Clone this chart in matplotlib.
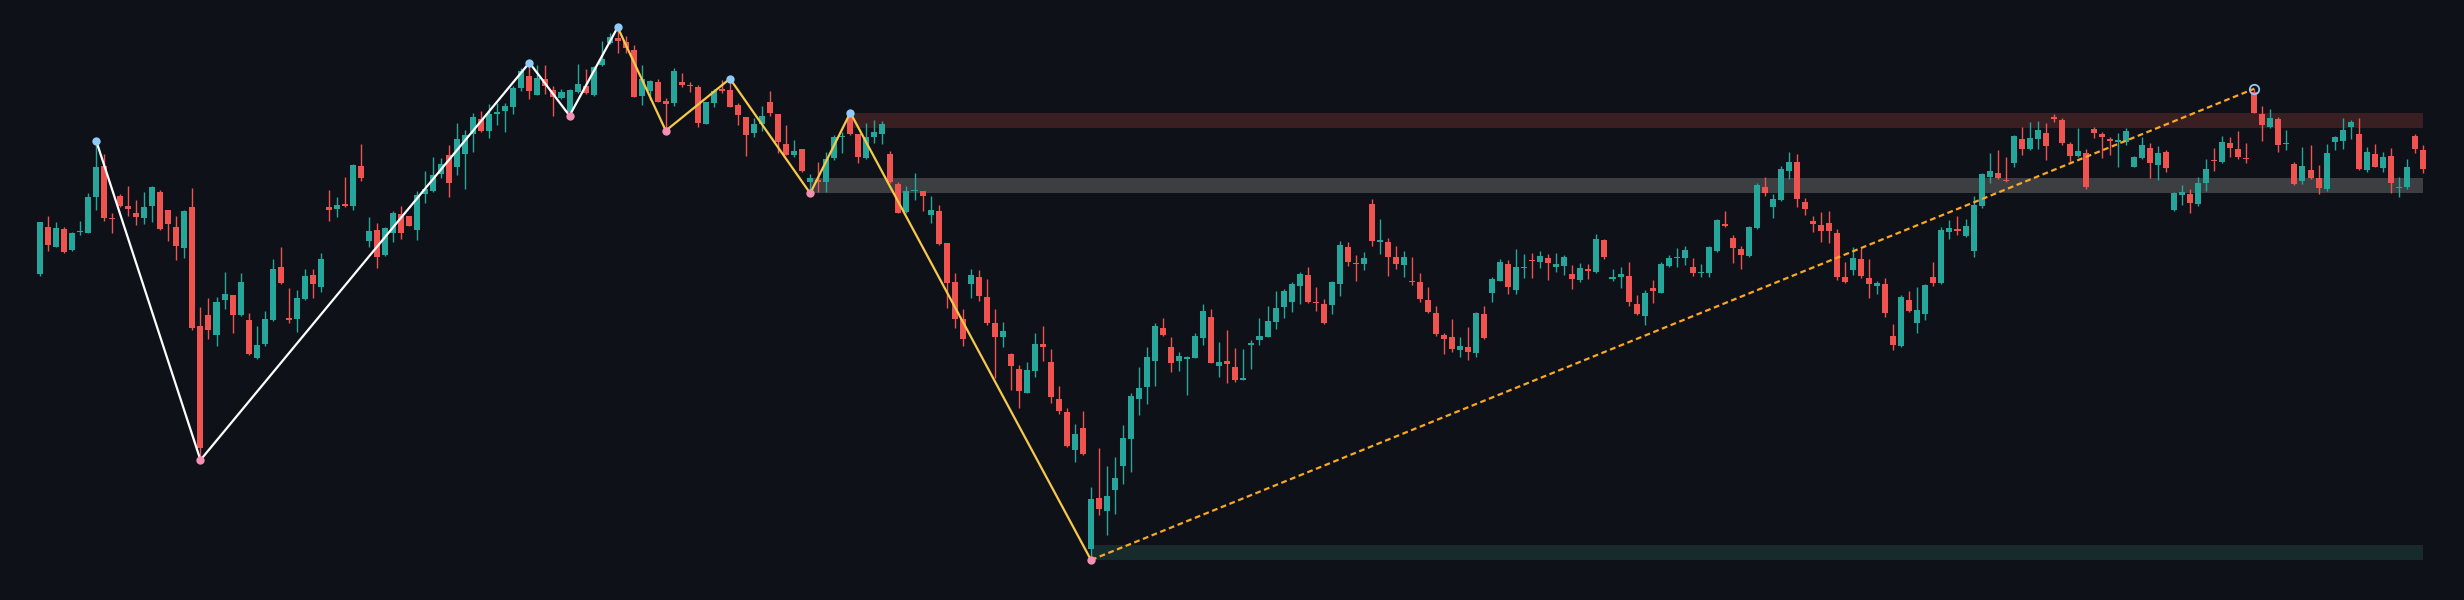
#!/usr/bin/env python3
"""Candlestick chart with zigzag pivots, projection line and S/R zones."""

import matplotlib

matplotlib.use("Agg")
import matplotlib.pyplot as plt
import numpy as np

BG = "#0e1118"
UP = "#26a69a"
DOWN = "#ef5350"

# OHLC, one value per bar (10 per row)
opens = [
    82.60, 87.33, 85.33, 87.07, 85.00, 86.80, 86.73, 90.27, 93.37, 88.20,
    90.40, 89.40, 88.73, 88.17, 89.37, 90.83, 88.97, 87.33, 85.20, 89.33,
    77.43, 78.50, 76.50, 79.97, 80.47, 78.50, 77.97, 74.23, 75.57, 78.00,
    83.27, 78.17, 78.10, 80.10, 82.47, 81.33, 89.33, 89.13, 89.57, 89.43,
    93.40, 85.90, 86.97, 84.50, 86.73, 88.57, 88.40, 87.00, 90.57, 90.93,
    92.60, 94.50, 93.33, 94.60, 96.57, 98.10, 96.93, 98.60, 98.93, 99.27,
    101.20, 102.37, 100.50, 102.10, 101.00, 100.17, 98.83, 100.83, 101.40, 100.53,
    103.50, 105.67, 106.17, 105.77, 105.00, 100.43, 100.93, 101.80, 99.90, 99.67,
    101.77, 101.53, 101.27, 97.63, 99.73, 101.07, 101.00, 99.50, 98.33, 96.67,
    97.60, 99.83, 98.60, 95.57, 94.50, 95.07, 91.83, 92.00, 91.83, 94.17,
    96.27, 98.50, 96.57, 94.17, 96.33, 96.60, 94.60, 91.60, 88.77, 90.87,
    90.90, 88.50, 88.93, 85.67, 81.80, 78.07, 81.60, 82.33, 80.33, 77.73,
    76.33, 74.60, 73.10, 70.67, 72.90, 75.57, 73.77, 70.10, 68.80, 65.00,
    67.17, 55.07, 60.17, 58.93, 61.00, 63.43, 66.10, 70.07, 71.33, 73.93,
    77.17, 75.27, 73.93, 74.07, 74.23, 76.23, 78.27, 73.43, 73.90, 73.27,
    72.00, 75.50, 76.00, 76.33, 77.83, 79.27, 79.77, 81.43, 82.50, 79.83,
    79.63, 79.50, 81.60, 85.33, 83.67, 83.57, 89.57, 85.83, 85.77, 84.27,
    83.50, 81.90, 81.83, 80.00, 78.73, 76.50, 76.27, 75.00, 75.27, 74.67,
    78.60, 80.67, 81.93, 83.57, 81.00, 83.20, 84.00, 83.77, 84.17, 83.33,
    83.43, 82.60, 82.00, 83.10, 82.77, 86.00, 82.07, 82.27, 82.40, 79.60,
    78.43, 81.17, 80.73, 83.43, 84.17, 84.17, 83.27, 82.67, 82.67, 84.90,
    87.60, 86.17, 85.07, 84.43, 87.17, 91.33, 89.27, 90.00, 92.90, 93.77,
    89.77, 87.90, 87.50, 87.73, 86.67, 82.33, 83.00, 84.10, 82.17, 81.43,
    81.60, 76.40, 75.40, 80.00, 77.67, 78.60, 82.33, 81.67, 86.83, 87.07,
    86.40, 84.93, 89.40, 92.33, 92.73, 92.00, 93.67, 96.10, 95.10, 96.07,
    96.73, 98.33, 98.00, 95.57, 94.43, 94.67, 97.10, 96.57, 96.07, 95.83,
    95.83, 93.33, 94.17, 95.17, 93.50, 94.77, 89.00, 90.50, 90.60, 89.60,
    91.67, 94.00, 93.83, 95.67, 95.07, 94.17, 100.83, 98.57, 97.27, 98.07,
    95.57, 93.57, 91.90, 93.00, 92.17, 91.07, 95.83, 95.93, 97.27, 96.60,
    93.00, 94.60, 93.17, 94.40, 91.17, 91.27, 96.40, 95.00,
]
highs = [
    87.80, 88.40, 87.77, 87.30, 86.77, 87.93, 90.67, 95.93, 94.57, 88.67,
    90.57, 91.40, 90.00, 90.80, 91.40, 91.00, 88.97, 88.43, 89.00, 91.23,
    79.33, 80.17, 80.33, 82.80, 80.47, 82.70, 78.67, 77.40, 78.93, 84.07,
    85.33, 81.17, 81.00, 83.13, 83.07, 84.67, 91.00, 90.33, 92.27, 93.60,
    95.57, 88.30, 87.67, 87.33, 88.93, 89.40, 88.40, 90.90, 92.93, 94.27,
    94.17, 95.50, 97.67, 97.00, 98.67, 98.90, 99.57, 99.73, 99.73, 101.40,
    103.17, 103.73, 103.50, 103.50, 101.40, 101.07, 101.07, 103.60, 103.07, 103.40,
    105.93, 106.67, 107.27, 106.40, 105.50, 103.50, 102.00, 102.07, 100.17, 103.17,
    102.67, 101.83, 101.50, 99.83, 101.07, 102.00, 102.13, 99.67, 98.33, 98.17,
    99.40, 100.90, 98.60, 97.50, 96.00, 95.07, 92.60, 93.83, 94.83, 96.50,
    96.83, 98.73, 96.57, 97.73, 98.00, 97.93, 94.90, 91.83, 91.40, 92.73,
    90.90, 90.40, 89.50, 85.67, 82.67, 79.07, 83.07, 83.00, 82.07, 79.07,
    77.83, 74.73, 73.50, 73.83, 76.67, 77.40, 75.07, 71.40, 69.23, 67.57,
    68.90, 61.27, 65.17, 63.43, 64.27, 67.50, 70.67, 73.33, 75.27, 77.67,
    78.17, 76.33, 74.83, 74.40, 76.73, 79.60, 79.07, 75.83, 77.00, 75.17,
    75.10, 76.00, 78.17, 79.40, 80.93, 81.07, 81.83, 82.83, 83.27, 81.33,
    80.13, 81.93, 85.90, 85.77, 84.47, 84.83, 90.07, 88.10, 86.23, 85.40,
    84.90, 84.27, 82.67, 81.27, 79.40, 76.73, 78.07, 76.27, 77.33, 78.83,
    79.43, 82.27, 84.07, 84.00, 85.07, 84.57, 84.73, 84.90, 84.57, 84.73,
    84.50, 83.50, 83.73, 83.60, 86.57, 86.07, 83.10, 83.33, 83.77, 80.50,
    81.00, 82.00, 83.77, 84.50, 85.17, 85.40, 84.17, 83.60, 85.40, 88.07,
    88.90, 86.50, 85.40, 87.40, 91.73, 92.27, 90.60, 93.40, 94.83, 94.60,
    90.23, 88.40, 88.83, 88.90, 87.07, 83.83, 85.27, 85.17, 84.07, 81.93,
    82.17, 77.60, 80.50, 80.90, 81.33, 81.60, 83.83, 87.33, 88.00, 88.40,
    88.07, 90.40, 92.67, 94.67, 95.00, 94.33, 96.50, 97.27, 97.83, 97.90,
    97.73, 98.57, 98.17, 95.83, 97.17, 95.07, 97.27, 96.83, 96.27, 96.67,
    97.17, 94.40, 96.27, 95.67, 95.40, 95.00, 90.83, 91.50, 91.07, 92.33,
    94.07, 95.17, 96.40, 96.27, 96.90, 95.73, 101.13, 99.40, 99.07, 98.33,
    97.00, 93.83, 95.33, 95.50, 93.50, 95.57, 96.40, 98.23, 98.00, 98.17,
    95.27, 95.57, 94.83, 95.17, 92.33, 94.07, 96.57, 95.50,
]
lows = [
    82.40, 84.93, 85.27, 84.67, 84.93, 86.50, 86.67, 89.00, 87.90, 86.73,
    89.33, 88.40, 87.50, 87.60, 87.83, 87.00, 85.93, 84.00, 84.23, 77.00,
    64.00, 76.07, 75.40, 79.10, 76.73, 78.40, 74.50, 74.07, 75.43, 77.90,
    81.60, 77.73, 76.77, 80.00, 80.23, 80.83, 87.93, 88.27, 89.33, 89.00,
    91.90, 85.33, 83.23, 84.43, 85.83, 86.13, 87.40, 85.97, 89.70, 90.83,
    92.17, 90.27, 92.50, 91.07, 94.77, 96.83, 96.17, 97.50, 96.83, 98.57,
    100.93, 100.07, 100.50, 100.60, 98.40, 100.07, 98.43, 100.67, 100.60, 100.43,
    103.40, 105.57, 104.73, 104.67, 100.27, 99.50, 100.00, 99.77, 96.93, 99.40,
    101.27, 100.83, 97.33, 97.57, 99.33, 100.73, 99.27, 97.50, 94.43, 96.33,
    96.90, 98.40, 94.73, 94.50, 94.27, 92.83, 90.67, 90.83, 90.83, 94.00,
    94.73, 96.50, 93.67, 94.10, 95.67, 95.60, 91.67, 88.67, 88.73, 90.00,
    88.93, 87.73, 85.50, 79.23, 77.17, 75.43, 80.17, 79.93, 77.50, 72.17,
    75.33, 71.00, 69.23, 70.67, 72.33, 73.93, 69.73, 68.60, 65.27, 63.83,
    64.50, 54.00, 58.50, 56.50, 58.57, 61.60, 62.77, 68.50, 69.57, 71.43,
    76.40, 72.83, 72.93, 70.50, 74.17, 75.50, 73.67, 72.33, 71.67, 71.83,
    72.00, 73.10, 75.50, 76.27, 77.10, 78.17, 78.83, 79.60, 79.67, 78.93,
    77.63, 78.57, 80.40, 83.40, 81.93, 83.00, 85.40, 84.57, 82.43, 83.10,
    82.33, 81.50, 79.77, 78.67, 76.43, 74.60, 74.83, 74.33, 74.00, 74.33,
    76.10, 79.77, 81.93, 80.60, 80.57, 82.23, 82.23, 83.23, 82.00, 82.83,
    82.50, 81.10, 81.77, 82.07, 82.67, 84.07, 81.90, 81.17, 79.43, 78.50,
    77.50, 79.73, 80.67, 83.33, 83.33, 83.50, 82.43, 82.33, 82.33, 84.83,
    87.27, 83.73, 83.07, 84.33, 87.10, 90.43, 88.23, 89.93, 92.07, 89.27,
    88.50, 86.77, 85.83, 85.67, 82.00, 81.73, 82.50, 82.23, 80.17, 80.60,
    78.33, 75.00, 75.33, 78.77, 76.73, 78.00, 81.43, 81.60, 86.07, 86.50,
    86.27, 84.27, 89.17, 91.73, 92.10, 91.77, 93.33, 94.50, 95.00, 95.10,
    94.00, 97.83, 95.50, 93.83, 94.27, 91.07, 96.17, 94.17, 94.50, 93.27,
    95.50, 93.27, 94.07, 92.17, 92.00, 92.83, 88.93, 89.50, 88.73, 89.40,
    90.90, 92.93, 93.73, 94.33, 94.10, 93.73, 98.67, 95.93, 97.17, 94.83,
    95.00, 91.50, 91.57, 92.07, 90.60, 90.93, 95.00, 95.10, 96.07, 93.00,
    92.83, 93.27, 92.83, 90.67, 90.33, 91.07, 94.73, 92.73,
]
closes = [
    87.77, 85.50, 87.23, 84.77, 86.67, 86.90, 90.27, 93.27, 88.23, 88.13,
    89.40, 89.13, 88.33, 89.27, 91.30, 87.10, 87.57, 85.43, 88.90, 77.20,
    65.17, 77.00, 79.77, 80.60, 78.47, 81.77, 74.60, 75.47, 78.10, 83.10,
    81.67, 78.00, 80.20, 82.40, 81.60, 84.07, 88.97, 89.47, 89.40, 93.50,
    92.23, 86.90, 84.33, 87.17, 88.70, 86.73, 87.43, 90.50, 91.07, 92.50,
    93.57, 91.67, 96.07, 96.50, 98.33, 96.90, 98.57, 98.83, 99.40, 101.17,
    102.93, 100.90, 102.17, 101.40, 100.27, 100.83, 101.00, 101.60, 100.67, 103.27,
    104.07, 106.33, 105.90, 105.17, 100.33, 102.13, 101.93, 99.83, 99.60, 102.90,
    101.50, 101.40, 97.67, 99.77, 100.93, 100.87, 99.33, 98.50, 96.50, 97.60,
    98.40, 98.73, 95.83, 94.50, 94.93, 92.93, 92.23, 91.77, 94.07, 96.33,
    96.33, 96.60, 94.27, 96.27, 96.77, 97.60, 91.83, 88.73, 90.90, 91.00,
    90.43, 88.97, 85.60, 81.73, 78.07, 76.07, 82.50, 80.40, 77.67, 76.27,
    76.87, 73.40, 70.93, 73.00, 75.60, 75.33, 70.33, 68.93, 65.43, 66.60,
    64.57, 60.10, 59.07, 60.40, 62.17, 66.23, 70.40, 71.17, 74.33, 77.40,
    76.50, 73.73, 74.40, 74.33, 76.43, 78.90, 73.73, 73.77, 73.57, 72.00,
    72.17, 75.73, 76.43, 77.93, 79.17, 80.90, 81.57, 82.57, 79.77, 79.67,
    77.73, 81.77, 85.50, 83.83, 83.57, 84.23, 85.93, 85.97, 84.33, 83.57,
    84.27, 81.77, 80.07, 78.77, 76.57, 76.07, 75.10, 75.40, 74.77, 78.73,
    76.23, 82.10, 83.77, 81.27, 83.33, 83.33, 83.87, 84.40, 83.67, 83.60,
    84.33, 82.10, 83.17, 82.93, 86.07, 84.27, 82.33, 82.60, 79.77, 78.60,
    80.67, 80.93, 83.60, 84.17, 84.27, 85.00, 82.73, 82.77, 85.33, 88.00,
    87.40, 85.23, 84.50, 87.33, 91.50, 90.67, 90.07, 93.10, 93.83, 90.10,
    89.10, 87.60, 86.93, 86.93, 82.33, 81.83, 84.23, 82.40, 81.60, 81.73,
    78.73, 75.50, 80.27, 78.93, 79.00, 81.50, 81.73, 87.00, 87.17, 86.93,
    87.40, 89.50, 92.60, 92.93, 92.23, 91.87, 96.40, 95.10, 96.17, 97.00,
    95.43, 98.07, 95.67, 94.43, 94.90, 91.33, 96.67, 96.27, 95.93, 96.00,
    96.93, 94.27, 95.50, 93.67, 94.67, 93.17, 90.73, 90.83, 89.67, 91.67,
    93.10, 93.90, 95.77, 95.23, 94.33, 94.07, 98.67, 97.50, 98.17, 95.50,
    95.67, 91.57, 93.40, 92.17, 91.23, 94.73, 96.27, 97.00, 97.83, 93.10,
    94.77, 93.33, 94.33, 91.73, 91.23, 93.33, 95.10, 93.10,
]

# zigzag pivots (bar index, price)
white_idx = [7, 20, 61, 66, 72]
white_px = [95.93, 64.00, 103.73, 98.43, 107.27]
yellow_idx = [72, 78, 86, 96, 101, 131]
yellow_px = [107.27, 96.93, 102.13, 90.67, 98.73, 54.00]
proj_idx = [131, 276]
proj_px = [54.00, 101.13]

pivot_high_idx = [7, 61, 72, 86, 101]
pivot_high_px = [95.93, 103.73, 107.27, 102.13, 98.73]
pivot_low_idx = [20, 66, 78, 96, 131]
pivot_low_px = [64.00, 98.43, 96.93, 90.67, 54.00]

# zones: start bar, bottom, top
zone_start = [101, 96, 131]
zone_bottom = [97.23, 90.67, 54.00]
zone_top = [98.73, 92.17, 55.50]
zone_colors = ["#3a1f22", "#3d3e42", "#182b2c"]


def draw_candles(ax):
    o = np.array(opens)
    h = np.array(highs)
    lo = np.array(lows)
    c = np.array(closes)
    x = np.arange(len(o))
    colors = np.where(c >= o, UP, DOWN)

    body_lo = np.minimum(o, c)
    body_h = np.maximum(np.abs(c - o), 0.12)
    ax.vlines(x, np.minimum(lo, body_lo), np.maximum(h, body_lo + body_h),
              colors=colors, linewidth=1.0, zorder=2)
    ax.bar(x, body_h, width=0.75, bottom=body_lo, color=colors,
           linewidth=0, zorder=3)


def draw_zones(ax, last):
    for start, bot, top, col in zip(zone_start, zone_bottom, zone_top, zone_colors):
        ax.fill_between([start, last], bot, top, color=col, linewidth=0, zorder=1)


def main():
    fig = plt.figure(figsize=(24.64, 6.0), dpi=100, facecolor=BG)
    ax = fig.add_axes([0, 0, 1, 1])
    ax.set_facecolor(BG)

    n = len(opens)
    draw_zones(ax, n - 1)
    draw_candles(ax)

    ax.plot(white_idx, white_px, color="#ffffff", linewidth=1.6, zorder=4)
    ax.plot(yellow_idx, yellow_px, color="#f7c948", linewidth=1.6, zorder=4)
    ax.plot(proj_idx, proj_px, color="#f9a825", linewidth=1.6,
            linestyle=(0, (2.6, 1.6)), zorder=4)

    ax.plot(pivot_high_idx, pivot_high_px, "o", color="#90caf9",
            markersize=6.0, markeredgewidth=0, zorder=5)
    ax.plot(pivot_low_idx, pivot_low_px, "o", color="#f48fb1",
            markersize=6.0, markeredgewidth=0, zorder=5)
    ax.plot(proj_idx[-1:], proj_px[-1:], "o", markerfacecolor="none",
            markeredgecolor="#90caf9", markersize=6.8, markeredgewidth=1.3, zorder=5)

    # one bar is ~8.02 px wide, first bar centred at x=40 px
    ax.set_xlim(-40 / 8.023, (2464 - 40) / 8.023)
    ax.set_ylim(50, 110)
    ax.axis("off")

    fig.savefig("out.png", dpi=100, facecolor=BG)


if __name__ == "__main__":
    main()
